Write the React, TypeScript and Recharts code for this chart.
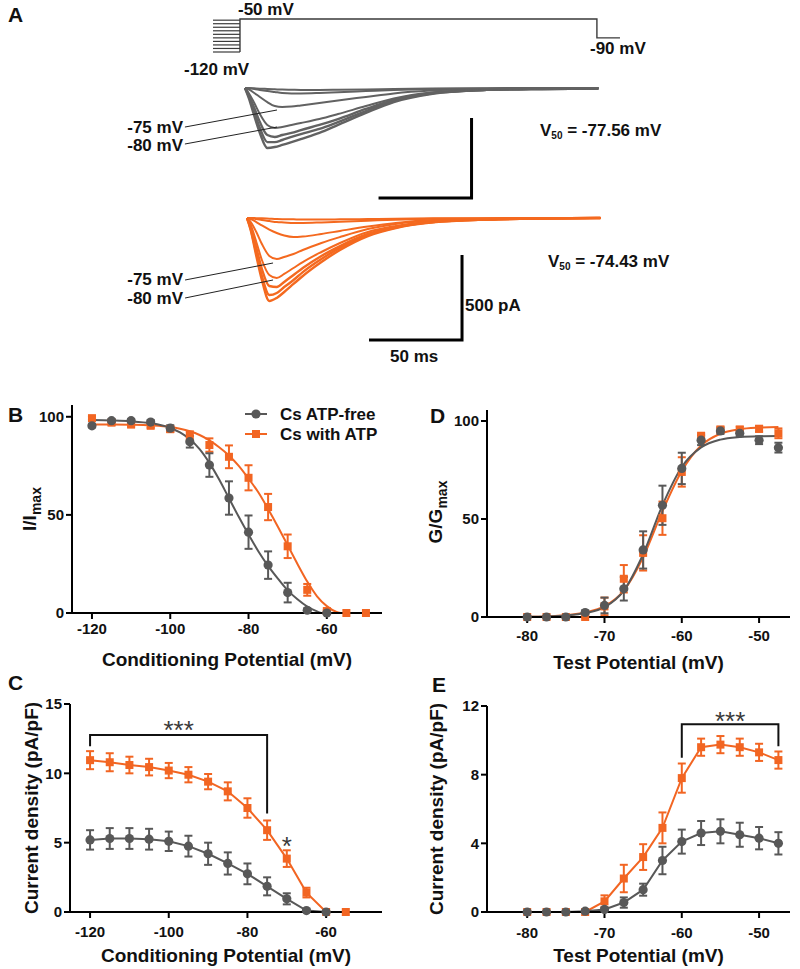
import React from 'react';
import { ComposedChart, Line, XAxis, YAxis, ErrorBar, ReferenceDot, Legend } from 'recharts';

const FONT = '"Liberation Sans", Arial, Helvetica, sans-serif';
const GRAY = '#585858';
const ORANGE = '#f26522';
const TRACE_GRAY = '#626262';
const TRACE_ORANGE = '#f4691f';
const INK = '#111111';

// ---------------- Panel A data ----------------
// voltage protocol (mV) vs time (ms)
const STEP_LEVELS = [-120, -112.5, -105, -97.5, -90, -82.5, -75, -67.5, -60, -52.5];
const STEP_T = [-17.2, -2.7];
const PROTOCOL_T = [-2.7, -2.7, 189.2, 189.2, 201.6];
const PROTOCOL_V = [-120, -50, -50, -90, -90];

// current traces (pA) vs time (ms)
const TRACE_T = [0, 2, 5, 8, 12, 16, 20, 25, 30, 40, 50, 65, 80, 100, 130, 160, 190];
const GRAY_TRACES = [
  [0, -62, -175, -281, -375, -369, -356, -338, -319, -281, -231, -156, -88, -38, -12, -6, -3],
  [0, -50, -150, -250, -338, -338, -325, -306, -288, -256, -213, -144, -81, -34, -12, -6, -3],
  [0, -44, -125, -213, -294, -306, -294, -281, -263, -231, -194, -131, -75, -31, -12, -6, -3],
  [0, -31, -94, -163, -231, -250, -244, -231, -219, -194, -163, -113, -66, -28, -12, -6, -3],
  [0, -9, -31, -56, -88, -113, -119, -116, -109, -94, -78, -56, -34, -16, -6, -3, 0],
  [0, -2, -6, -12, -19, -25, -31, -34, -34, -31, -26, -19, -12, -6, -3, 0, 0],
  [0, 0, -2, -4, -6, -8, -10, -11, -12, -12, -11, -9, -6, -3, -1, 0, 0],
];
const ORANGE_TRACES = [
  [0, -71, -223, -365, -488, -470, -435, -388, -341, -259, -188, -106, -59, -26, -9, -3, 0],
  [0, -65, -206, -341, -453, -441, -406, -365, -318, -241, -176, -100, -56, -24, -9, -3, 0],
  [0, -53, -176, -300, -400, -406, -376, -335, -294, -223, -165, -94, -53, -24, -9, -3, 0],
  [0, -41, -141, -247, -335, -353, -329, -294, -259, -200, -147, -82, -47, -21, -7, -2, 0],
  [0, -24, -82, -153, -223, -241, -229, -212, -188, -147, -112, -65, -35, -15, -6, -2, 0],
  [0, -6, -24, -44, -68, -88, -103, -112, -109, -94, -76, -50, -29, -12, -5, -2, 0],
  [0, -2, -6, -12, -18, -24, -26, -29, -29, -26, -22, -16, -10, -5, -2, 0, 0],
  [0, 0, -1, -2, -4, -6, -7, -8, -9, -9, -8, -6, -4, -2, -1, 0, 0],
];
// scale bars (50 ms / 500 pA)
const GRAY_SCALE_T = [71.8, 121.8, 121.8];
const GRAY_SCALE_I = [-687.5, -687.5, -187.5];
const ORANGE_SCALE_T = [65.6, 115.6, 115.6];
const ORANGE_SCALE_I = [-717.6, -717.6, -217.6];
// leader lines for the -75 / -80 mV traces
const GRAY_LEADER_T = [-32.3, 17.2];
const GRAY_LEADER_75 = [-244, -137.5];
const GRAY_LEADER_80 = [-350, -244];
const ORANGE_LEADER_T = [-33.3, 14.0];
const ORANGE_LEADER_75 = [-364.7, -264.7];
const ORANGE_LEADER_80 = [-470.6, -364.7];

// ---------------- Panel B data (I/Imax, %) ----------------
const B_X_GRAY = [-120, -115, -110, -105, -100, -95, -90, -85, -80, -75, -70, -65, -60];
const B_Y_GRAY = [95.4, 98, 98, 97.3, 94.2, 87.3, 75.4, 58.6, 41.2, 24.4, 10.4, 1.4, 0];
const B_E_GRAY = [0.8, 0.8, 0.8, 1, 1.5, 3, 6, 8.5, 8.5, 7, 5, 1, 0];
const B_X_ORANGE = [-120, -115, -110, -105, -100, -95, -90, -85, -80, -75, -70, -65, -60, -55, -50];
const B_Y_ORANGE = [99.3, 97, 96, 95.4, 93.7, 90.4, 85.6, 79.6, 68.9, 54, 34, 11.8, 1, 0, 0];
const B_E_ORANGE = [0.8, 1, 1, 1, 1.5, 2.2, 3.4, 5.8, 6.4, 6.7, 6, 3, 0.5, 0, 0];
const B_FIT_X_GRAY = [-120, -115, -110, -105, -100, -97.5, -95, -92.5, -90, -87.5, -85, -82.5, -80, -77.5, -75, -72.5, -70, -67.5, -65, -62.5, -61.5];
const B_FIT_GRAY = [98.3, 98.1, 97.7, 96.7, 94.3, 92, 88.5, 83.5, 76.5, 68, 58.5, 49, 40, 31.5, 24, 17.5, 11.5, 7, 3.3, 0.8, 0];
const B_FIT_X_ORANGE = [-120, -115, -110, -105, -100, -97.5, -95, -92.5, -90, -87.5, -85, -82.5, -80, -77.5, -75, -72.5, -70, -67.5, -65, -62.5, -60, -57.5, -56.5];
const B_FIT_ORANGE = [96, 96, 95.9, 95.6, 94.8, 93.9, 92.6, 90.7, 88, 84.5, 80.3, 75, 68.5, 61.5, 53, 44, 34.5, 25, 16, 8.5, 3.5, 0.5, 0];
const B_X_TICKS = [-120, -100, -80, -60];
const B_Y_TICKS = [0, 50, 100];

// ---------------- Panel C data (pA/pF) ----------------
const C_X_GRAY = [-120, -115, -110, -105, -100, -95, -90, -85, -80, -75, -70, -65, -60];
const C_Y_GRAY = [5.2, 5.3, 5.3, 5.25, 5.1, 4.75, 4.2, 3.5, 2.75, 1.85, 0.95, 0.1, 0];
const C_E_GRAY = [0.7, 0.75, 0.75, 0.75, 0.7, 0.75, 0.8, 0.8, 0.75, 0.65, 0.4, 0.1, 0];
const C_X_ORANGE = [-120, -115, -110, -105, -100, -95, -90, -85, -80, -75, -70, -65, -60, -55];
const C_Y_ORANGE = [10.95, 10.8, 10.6, 10.45, 10.2, 9.9, 9.4, 8.7, 7.5, 5.9, 3.85, 1.4, 0, 0];
const C_E_ORANGE = [0.65, 0.65, 0.6, 0.6, 0.55, 0.55, 0.55, 0.65, 0.7, 0.7, 0.6, 0.35, 0, 0];
const C_BRACKET_X = [-120, -120, -75, -75];
const C_BRACKET_Y = [11.96, 12.76, 12.76, 7.1];
const C_STARS = [{ x: -97.5, y: 12.47, text: '***' }, { x: -70, y: 4.09, text: '*' }];
const C_X_TICKS = [-120, -100, -80, -60];
const C_Y_TICKS = [0, 5, 10, 15];

// ---------------- Panel D data (G/Gmax, %) ----------------
const D_X = [-80, -77.5, -75, -72.5, -70, -67.5, -65, -62.5, -60, -57.5, -55, -52.5, -50, -47.5];
const D_Y_GRAY = [0, 0, 0, 2.3, 5.9, 14.4, 34.2, 57, 75.8, 90.2, 94.9, 93.7, 90.2, 86.4];
const D_E_GRAY = [0, 0, 0, 1, 4, 6, 9.5, 10, 8, 2.5, 1.5, 1.5, 2, 2.5];
const D_Y_ORANGE = [0, 0, 0, 0, 5.4, 19.5, 32.7, 50.4, 74, 92, 95.6, 95.6, 96, 93.7];
const D_E_ORANGE = [0, 0, 0, 0, 4.5, 7, 9, 8.5, 7.5, 2, 1.5, 1.5, 1.5, 2.5];
const D_FIT_GRAY = [0.1, 0.3, 0.8, 2, 5, 13.5, 32, 57, 76.5, 86.5, 90.5, 91.8, 92.2, 92.3];
const D_FIT_ORANGE = [0.1, 0.3, 0.9, 2.3, 5.5, 13.5, 30.5, 54, 74.5, 87.5, 93.5, 95.8, 96.6, 96.9];
const D_X_TICKS = [-80, -70, -60, -50];
const D_Y_TICKS = [0, 50, 100];

// ---------------- Panel E data (pA/pF) ----------------
const E_X = [-80, -77.5, -75, -72.5, -70, -67.5, -65, -62.5, -60, -57.5, -55, -52.5, -50, -47.5];
const E_Y_GRAY = [0, 0, 0, 0.05, 0.15, 0.55, 1.3, 3.0, 4.1, 4.6, 4.7, 4.5, 4.3, 4.0];
const E_E_GRAY = [0, 0, 0, 0.05, 0.1, 0.3, 0.35, 0.8, 0.7, 0.7, 0.7, 0.7, 0.65, 0.65];
const E_Y_ORANGE = [0, 0, 0, 0, 0.62, 1.95, 3.2, 4.9, 7.8, 9.6, 9.75, 9.6, 9.3, 8.85];
const E_E_ORANGE = [0, 0, 0, 0, 0.35, 0.8, 0.75, 0.9, 0.85, 0.5, 0.5, 0.5, 0.5, 0.5];
const E_BRACKET_X = [-60, -60, -47.5, -47.5];
const E_BRACKET_Y = [8.98, 10.93, 10.93, 9.66];
const E_STARS = [{ x: -53.75, y: 10.58, text: '***' }];
const E_X_TICKS = [-80, -70, -60, -50];
const E_Y_TICKS = [0, 4, 8, 12];

const SERIES = { gray: 'Cs ATP-free', orange: 'Cs with ATP' };

// ---------------- helpers ----------------
const zip = (xs: number[], ys: number[], es?: number[]) =>
  xs.map((x, i) => ({ x, y: ys[i], e: es ? es[i] : 0 }));

const makeCircle = (color: string) => (p: any) => {
  const { cx, cy, index } = p;
  if (typeof cx !== 'number' || typeof cy !== 'number') return <g key={`nc${index}`} />;
  return <circle key={`c${index}`} cx={cx} cy={cy} r={4.6} fill={color} />;
};
const makeSquare = (color: string) => (p: any) => {
  const { cx, cy, index } = p;
  if (typeof cx !== 'number' || typeof cy !== 'number') return <g key={`ns${index}`} />;
  return <rect key={`s${index}`} x={cx - 4} y={cy - 4} width={8} height={8} fill={color} />;
};

const tickStyle = { fontSize: 15, fontWeight: 700, fill: INK, fontFamily: FONT };
const axisLineStyle = { stroke: '#000', strokeWidth: 2 };

const xTitle = (text: string, cx: number, baseline: number) => () => (
  <text x={cx} y={baseline} textAnchor="middle" fontFamily={FONT} fontWeight={700} fontSize={19} fill={INK}>
    {text}
  </text>
);
const yTitle = (main: string, sub: string | null, x: number, cy: number) => () => (
  <text x={x} y={cy} transform={`rotate(-90 ${x} ${cy})`} textAnchor="middle" fontFamily={FONT} fontWeight={700} fontSize={19} fill={INK}>
    {main}
    {sub ? <tspan fontSize={14} dy={5}>{sub}</tspan> : null}
  </text>
);

function Txt({ x, cy, size = 17, anchor = 'start', children, color = INK, weight = 700 }: any) {
  const style: any = {
    position: 'absolute', top: cy - 0.49 * size, fontSize: size, lineHeight: 1, fontFamily: FONT,
    fontWeight: weight, whiteSpace: 'nowrap', color,
  };
  if (anchor === 'end') style.right = 800 - x;
  else style.left = x;
  return <div style={style}>{children}</div>;
}

function Layer({ tDomain, yDomain, children }: any) {
  return (
    <div style={{ position: 'absolute', left: 0, top: 0 }}>
      <ComposedChart width={800} height={370} margin={{ top: 0, right: 0, bottom: 0, left: 0 }}>
        <XAxis type="number" dataKey="x" domain={tDomain} hide allowDataOverflow />
        <YAxis type="number" domain={yDomain} hide allowDataOverflow />
        {children}
      </ComposedChart>
    </div>
  );
}

const GRAY_T_DOMAIN = [-131.72, 298.39];
const ORANGE_T_DOMAIN = [-132.8, 297.31];
const PROTOCOL_DOMAIN = [-794.6, -9.69];
const GRAY_I_DOMAIN = [-1762.5, 550];
const ORANGE_I_DOMAIN = [-894.1, 1282.4];

const seg = (data: any[], key: string, color: string, w: number) => (
  <Line key={key} data={data} dataKey="y" type="linear" stroke={color} strokeWidth={w} dot={false}
    activeDot={false} legendType="none" isAnimationActive={false} />
);

function PanelA() {
  return (
    <>
      <Layer tDomain={GRAY_T_DOMAIN} yDomain={PROTOCOL_DOMAIN}>
        {STEP_LEVELS.map((v, i) => seg(zip(STEP_T, [v, v]), `st${i}`, '#3a3a3a', 1.2))}
        {seg(zip(PROTOCOL_T, PROTOCOL_V), 'prot', '#3a3a3a', 1.4)}
      </Layer>
      <Layer tDomain={GRAY_T_DOMAIN} yDomain={GRAY_I_DOMAIN}>
        {GRAY_TRACES.map((tr, i) => (
          <Line key={`g${i}`} data={zip(TRACE_T, tr)} dataKey="y" type="monotone" stroke={TRACE_GRAY}
            strokeWidth={i < 3 ? 2.4 : 2} dot={false} activeDot={false} legendType="none" isAnimationActive={false} />
        ))}
        {seg(zip(GRAY_LEADER_T, GRAY_LEADER_75), 'gl75', '#222', 1)}
        {seg(zip(GRAY_LEADER_T, GRAY_LEADER_80), 'gl80', '#222', 1)}
        {seg(zip(GRAY_SCALE_T, GRAY_SCALE_I), 'gsb', '#000', 3)}
      </Layer>
      <Layer tDomain={ORANGE_T_DOMAIN} yDomain={ORANGE_I_DOMAIN}>
        {ORANGE_TRACES.map((tr, i) => (
          <Line key={`o${i}`} data={zip(TRACE_T, tr)} dataKey="y" type="monotone" stroke={TRACE_ORANGE}
            strokeWidth={i < 3 ? 2.4 : 2} dot={false} activeDot={false} legendType="none" isAnimationActive={false} />
        ))}
        {seg(zip(ORANGE_LEADER_T, ORANGE_LEADER_75), 'ol75', '#222', 1)}
        {seg(zip(ORANGE_LEADER_T, ORANGE_LEADER_80), 'ol80', '#222', 1)}
        {seg(zip(ORANGE_SCALE_T, ORANGE_SCALE_I), 'osb', '#000', 3)}
      </Layer>
      <Txt x={8} cy={14.5} size={21}>A</Txt>
      <Txt x={238} cy={9.5}>-50 mV</Txt>
      <Txt x={184} cy={69}>-120 mV</Txt>
      <Txt x={590} cy={48}>-90 mV</Txt>
      <Txt x={183} cy={127} anchor="end">-75 mV</Txt>
      <Txt x={183} cy={145} anchor="end">-80 mV</Txt>
      <Txt x={540} cy={130}>V<span style={{ fontSize: 10, position: 'relative', top: 3 }}>50</span> = -77.56 mV</Txt>
      <Txt x={183} cy={279} anchor="end">-75 mV</Txt>
      <Txt x={183} cy={298} anchor="end">-80 mV</Txt>
      <Txt x={548} cy={261}>V<span style={{ fontSize: 10, position: 'relative', top: 3 }}>50</span> = -74.43 mV</Txt>
      <Txt x={465} cy={305}>500 pA</Txt>
      <Txt x={390} cy={356}>50 ms</Txt>
    </>
  );
}

function renderLegend(props: any) {
  const order = [SERIES.gray, SERIES.orange];
  const items = (props.payload || [])
    .filter((p: any) => order.includes(p.value))
    .sort((a: any, b: any) => order.indexOf(a.value) - order.indexOf(b.value));
  return (
    <div>
      {items.map((it: any) => {
        const color = it.color;
        const circle = it.value === SERIES.gray;
        return (
          <div key={it.value} style={{ display: 'flex', alignItems: 'center', height: 20 }}>
            <svg width={35} height={20} style={{ display: 'block' }}>
              <line x1={0} y1={10} x2={22} y2={10} stroke={color} strokeWidth={2} />
              {circle ? <circle cx={11} cy={10} r={4.6} fill={color} /> : <rect x={7} y={6} width={8} height={8} fill={color} />}
            </svg>
            <span style={{ fontFamily: FONT, fontWeight: 700, fontSize: 17, color: INK, lineHeight: 1 }}>{it.value}</span>
          </div>
        );
      })}
    </div>
  );
}

function pointsLine(data: any[], name: string, color: string, circle: boolean, connect: boolean) {
  return (
    <Line key={name} data={data} dataKey="y" name={name} type="linear" stroke={color}
      strokeWidth={connect ? 2 : 0} dot={circle ? makeCircle(color) : makeSquare(color)}
      activeDot={false} isAnimationActive={false}>
      <ErrorBar dataKey="e" width={4} strokeWidth={2} stroke={color} direction="y" />
    </Line>
  );
}

function fitLine(data: any[], key: string, color: string) {
  return (
    <Line key={key} data={data} dataKey="y" type="monotone" stroke={color} strokeWidth={2} dot={false}
      activeDot={false} legendType="none" isAnimationActive={false} />
  );
}

const starLabel = (text: string) => (p: any) => {
  const vb = p.viewBox || {};
  const x = (vb.x ?? 0) + (vb.width ?? 0) / 2;
  const y = (vb.y ?? 0) + (vb.height ?? 0) / 2;
  return (
    <text x={x} y={y} textAnchor="middle" fontFamily={FONT} fontSize={26} fill="#3a3a3a">{text}</text>
  );
};

function PanelB() {
  return (
    <div style={{ position: 'absolute', left: 0, top: 395 }}>
      <ComposedChart width={400} height={290} margin={{ top: 10, right: 18, bottom: 0, left: 0 }}>
        <XAxis type="number" dataKey="x" domain={[-125.1, -45.9]} ticks={B_X_TICKS} height={72}
          axisLine={axisLineStyle} tickLine={axisLineStyle} tickSize={6} tickMargin={4.6} tick={tickStyle}
          label={xTitle('Conditioning Potential (mV)', 227, 270.8)} />
        <YAxis type="number" domain={[0, 106]} ticks={B_Y_TICKS} width={72}
          axisLine={axisLineStyle} tickLine={axisLineStyle} tickSize={6} tickMargin={2} tick={tickStyle}
          label={yTitle('I/I', 'max', 36, 114)} />
        {fitLine(zip(B_FIT_X_ORANGE, B_FIT_ORANGE), 'bfo', ORANGE)}
        {fitLine(zip(B_FIT_X_GRAY, B_FIT_GRAY), 'bfg', GRAY)}
        {pointsLine(zip(B_X_ORANGE, B_Y_ORANGE, B_E_ORANGE), SERIES.orange, ORANGE, false, false)}
        {pointsLine(zip(B_X_GRAY, B_Y_GRAY, B_E_GRAY), SERIES.gray, GRAY, true, false)}
        <Legend content={renderLegend} layout="vertical" align="center" verticalAlign="middle"
          wrapperStyle={{ left: 245, top: 9, width: 160 }} />
      </ComposedChart>
    </div>
  );
}

function PanelC() {
  return (
    <div style={{ position: 'absolute', left: 0, top: 694 }}>
      <ComposedChart width={400} height={275} margin={{ top: 10, right: 18, bottom: 0, left: 0 }}>
        <XAxis type="number" dataKey="x" domain={[-125.1, -45.8]} ticks={C_X_TICKS} height={57}
          axisLine={axisLineStyle} tickLine={axisLineStyle} tickSize={6} tickMargin={8.3} tick={tickStyle}
          label={xTitle('Conditioning Potential (mV)', 226, 267.8)} />
        <YAxis type="number" domain={[0, 15]} ticks={C_Y_TICKS} width={70}
          axisLine={axisLineStyle} tickLine={axisLineStyle} tickSize={6} tickMargin={2} tick={tickStyle}
          label={yTitle('Current density (pA/pF)', null, 38, 114)} />
        {seg(zip(C_BRACKET_X, C_BRACKET_Y), 'cbr', '#111', 2)}
        {pointsLine(zip(C_X_ORANGE, C_Y_ORANGE, C_E_ORANGE), SERIES.orange, ORANGE, false, true)}
        {pointsLine(zip(C_X_GRAY, C_Y_GRAY, C_E_GRAY), SERIES.gray, GRAY, true, true)}
        {C_STARS.map((s, i) => (
          <ReferenceDot key={`cs${i}`} x={s.x} y={s.y} r={0} fill="none" stroke="none" label={starLabel(s.text)} />
        ))}
      </ComposedChart>
    </div>
  );
}

function PanelD() {
  return (
    <div style={{ position: 'absolute', left: 400, top: 400 }}>
      <ComposedChart width={400} height={290} margin={{ top: 10, right: 10, bottom: 0, left: 0 }}>
        <XAxis type="number" dataKey="x" domain={[-85.2, -46]} ticks={D_X_TICKS} height={73}
          axisLine={axisLineStyle} tickLine={axisLineStyle} tickSize={6} tickMargin={7.3} tick={tickStyle}
          label={xTitle('Test Potential (mV)', 238.5, 268.5)} />
        <YAxis type="number" domain={[0, 105.6]} ticks={D_Y_TICKS} width={87}
          axisLine={axisLineStyle} tickLine={axisLineStyle} tickSize={6} tickMargin={2} tick={tickStyle}
          label={yTitle('G/G', 'max', 42, 112)} />
        {fitLine(zip(D_X, D_FIT_ORANGE), 'dfo', ORANGE)}
        {fitLine(zip(D_X, D_FIT_GRAY), 'dfg', GRAY)}
        {pointsLine(zip(D_X, D_Y_ORANGE, D_E_ORANGE), SERIES.orange, ORANGE, false, false)}
        {pointsLine(zip(D_X, D_Y_GRAY, D_E_GRAY), SERIES.gray, GRAY, true, false)}
      </ComposedChart>
    </div>
  );
}

function PanelE() {
  return (
    <div style={{ position: 'absolute', left: 400, top: 696 }}>
      <ComposedChart width={400} height={273} margin={{ top: 10, right: 10, bottom: 0, left: 0 }}>
        <XAxis type="number" dataKey="x" domain={[-85.2, -46]} ticks={E_X_TICKS} height={57}
          axisLine={axisLineStyle} tickLine={axisLineStyle} tickSize={6} tickMargin={8.9} tick={tickStyle}
          label={xTitle('Test Potential (mV)', 238.5, 265.8)} />
        <YAxis type="number" domain={[0, 12]} ticks={E_Y_TICKS} width={87}
          axisLine={axisLineStyle} tickLine={axisLineStyle} tickSize={6} tickMargin={2} tick={tickStyle}
          label={yTitle('Current density (pA/pF)', null, 43, 113)} />
        {seg(zip(E_BRACKET_X, E_BRACKET_Y), 'ebr', '#111', 2)}
        {pointsLine(zip(E_X, E_Y_ORANGE, E_E_ORANGE), SERIES.orange, ORANGE, false, true)}
        {pointsLine(zip(E_X, E_Y_GRAY, E_E_GRAY), SERIES.gray, GRAY, true, true)}
        {E_STARS.map((s, i) => (
          <ReferenceDot key={`es${i}`} x={s.x} y={s.y} r={0} fill="none" stroke="none" label={starLabel(s.text)} />
        ))}
      </ComposedChart>
    </div>
  );
}

export default function App() {
  return (
    <div style={{ position: 'absolute', left: 0, top: 0, width: 800, height: 969, background: '#fff', overflow: 'hidden' }}>
      <PanelA />
      <PanelB />
      <PanelC />
      <PanelD />
      <PanelE />
      <Txt x={8} cy={414.5} size={21}>B</Txt>
      <Txt x={8} cy={682} size={21}>C</Txt>
      <Txt x={430} cy={415} size={21}>D</Txt>
      <Txt x={432} cy={684} size={21}>E</Txt>
    </div>
  );
}
